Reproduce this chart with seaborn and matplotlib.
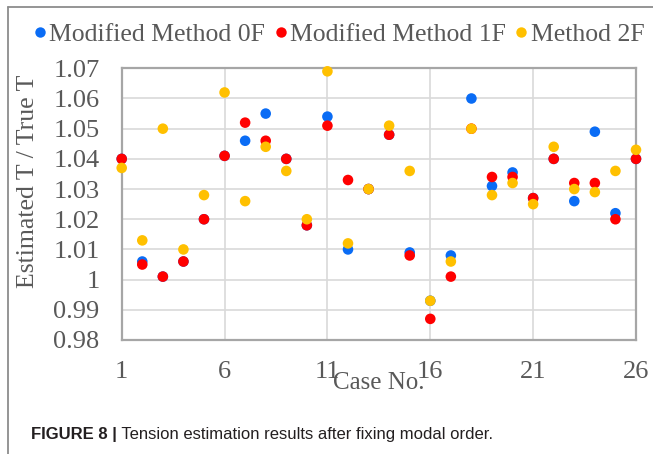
import numpy as np
import pandas as pd
import matplotlib
matplotlib.use("Agg")
import matplotlib.pyplot as plt
from matplotlib.lines import Line2D
import seaborn as sns

cases = list(range(1, 27))
method_0f = [1.040, 1.006, 1.001, 1.006, 1.020, 1.041, 1.046, 1.055, 1.040, 1.018,
             1.054, 1.010, 1.030, 1.048, 1.009, 0.993, 1.008, 1.060, 1.031, 1.0355,
             1.027, 1.040, 1.026, 1.049, 1.022, 1.040]
method_1f = [1.040, 1.005, 1.001, 1.006, 1.020, 1.041, 1.052, 1.046, 1.040, 1.018,
             1.051, 1.033, 1.030, 1.048, 1.008, 0.987, 1.001, 1.050, 1.034, 1.034,
             1.027, 1.040, 1.032, 1.032, 1.020, 1.040]
method_2f = [1.037, 1.013, 1.050, 1.010, 1.028, 1.062, 1.026, 1.044, 1.036, 1.020,
             1.069, 1.012, 1.030, 1.051, 1.036, 0.993, 1.006, 1.050, 1.028, 1.032,
             1.025, 1.044, 1.030, 1.029, 1.036, 1.043]
series_names = ["Modified Method 0F", "Modified Method 1F", "Method 2F"]
series_colors = ["#0A6CF5", "#FF0000", "#FFC000"]
xticks = [1, 6, 11, 16, 21, 26]
yticks = [0.98, 0.99, 1.00, 1.01, 1.02, 1.03, 1.04, 1.05, 1.06, 1.07]
ytick_labels = ["0.98", "0.99", "1", "1.01", "1.02", "1.03", "1.04", "1.05", "1.06", "1.07"]
x_label = "Case No."
y_label = "Estimated T / True T"
caption_bold = "FIGURE 8 |"
caption_text = " Tension estimation results after fixing modal order."

df = pd.DataFrame({
    "Case": cases * 3,
    "Ratio": method_0f + method_1f + method_2f,
    "Method": [series_names[0]] * 26 + [series_names[1]] * 26 + [series_names[2]] * 26,
})

sns.set_style("white")
plt.rcParams["font.family"] = ["Liberation Serif", "DejaVu Serif"]
TXT = "#595959"

W, H = 653, 454
fig = plt.figure(figsize=(W / 100, H / 100), dpi=100)
L, R, T, B = 121.7, 636, 68.3, 340
ax = fig.add_axes([L / W, 1 - B / H, (R - L) / W, (B - T) / H])

sns.scatterplot(data=df, x="Case", y="Ratio", hue="Method", hue_order=series_names,
                palette=series_colors, s=58, linewidth=0, ax=ax, legend=False, zorder=3)
for c in ax.collections:
    c.set_clip_on(False)

ax.set_xlim(1, 26)
ax.set_ylim(0.98, 1.07)
ax.set_xticks(xticks)
ax.set_xticklabels([str(t) for t in xticks])
ax.set_yticks(yticks)
ax.set_yticklabels(ytick_labels)
ax.tick_params(axis="both", length=0, labelsize=19, labelcolor=TXT)
ax.tick_params(axis="y", pad=16)
ax.tick_params(axis="x", pad=15)
ax.grid(True, color="#D9D9D9", linewidth=1.2, zorder=0)
ax.set_axisbelow(True)
for s in ax.spines.values():
    s.set_color("#A6A6A6")
    s.set_linewidth(1.6)
ax.set_xlabel("")
ax.set_ylabel("")

fig.text((L + R) / 2 / W, 1 - 383 / H, x_label, ha="center", va="center",
         fontsize=18, color=TXT)
fig.text(28 / W, 1 - 181.5 / H, y_label, ha="center", va="center", rotation=90,
         fontsize=18.5, color=TXT)

handles = [Line2D([0], [0], marker="o", linestyle="", markersize=7.5,
                  markerfacecolor=c, markeredgewidth=0) for c in series_colors]
fig.legend(handles, series_names, loc="center", bbox_to_anchor=(339 / W, 1 - 35 / H),
           ncol=3, frameon=False, fontsize=18.5, labelcolor=TXT,
           handletextpad=0.12, columnspacing=0.35, handlelength=0.5, borderpad=0,
           borderaxespad=0)

# outer frame
fig.add_artist(Line2D([8 / W, 8 / W], [0, 1 - 7 / H], color="#8C8C8C", linewidth=1.3,
                      transform=fig.transFigure))
fig.add_artist(Line2D([8 / W, 1], [1 - 7 / H, 1 - 7 / H], color="#8C8C8C", linewidth=1.3,
                      transform=fig.transFigure))

cap_font = ["Liberation Sans", "DejaVu Sans"]
t1 = fig.text(31 / W, 1 - 435 / H, caption_bold, ha="left", va="center",
              fontsize=12, fontweight="bold", color="#231F20", family=cap_font)
fig.canvas.draw()
bb = t1.get_window_extent(fig.canvas.get_renderer())
fig.text(bb.x1 / W, 1 - 435 / H, caption_text, ha="left", va="center",
         fontsize=12, color="#231F20", family=cap_font)

fig.savefig("out.png", dpi=100)
